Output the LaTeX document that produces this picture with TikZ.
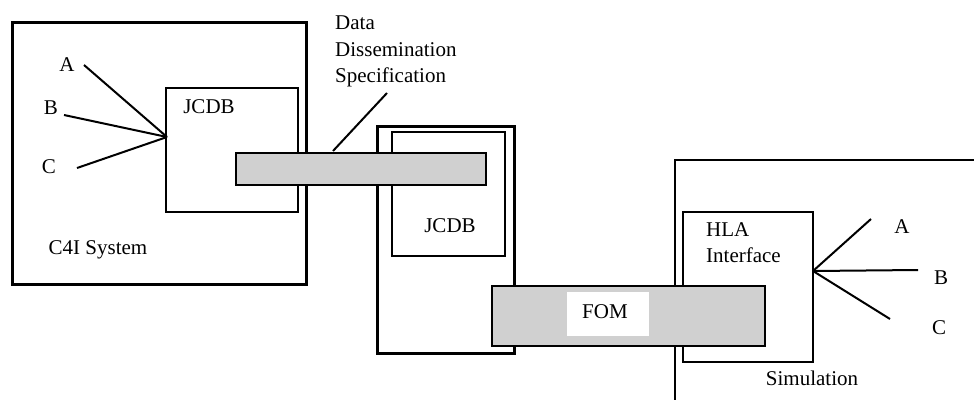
\documentclass[tikz,border=0pt]{standalone}
\usepackage{fontspec}
\setmainfont{Liberation Serif}
\definecolor{bargray}{HTML}{D0D0D0}
\begin{document}
\begin{tikzpicture}[x=1pt,y=-1pt,
  box/.style={draw, line width=2.6pt, fill=white, inner sep=0pt, anchor=north west},
  inbox/.style={draw, line width=2.3pt, fill=white, inner sep=0pt, anchor=north west},
  bar/.style={draw, line width=2.2pt, fill=bargray, inner sep=0pt, anchor=north west},
  lbl/.style={font=\fontsize{21}{26.5}\selectfont, inner sep=0pt},
  wire/.style={line width=2pt}]
\useasboundingbox (0,0) rectangle (974,399);
% C4I system
\node[box, minimum width=294, minimum height=262] (c4i) at (11,21) {};
\node[inbox, minimum width=132, minimum height=124] (jcdb1) at (165,87) {};
\node[lbl] (jcdb1t) at (209,107) {JCDB};
\node[lbl] (c4it) at (98,250) {C4I System};
\coordinate (hub1) at (167,137);
\coordinate (a1) at (84,65);
\coordinate (b1) at (64,115);
\coordinate (c1) at (77,168);
\node[lbl] (a1t) at (67,65) {A};
\node[lbl] (b1t) at (51,108) {B};
\node[lbl] (c1t) at (49,167) {C};
\draw[wire] (a1) -- (hub1);
\draw[wire] (b1) -- (hub1);
\draw[wire] (c1) -- (hub1);
% middle
\node[box, minimum width=137, minimum height=227] (mid) at (376,125) {};
\node[inbox, minimum width=113, minimum height=124] (jcdb2) at (391,131) {};
\node[lbl] (jcdb2t) at (450,226) {JCDB};
% DDS bar
\node[bar, minimum width=250, minimum height=32] (dds) at (235,152) {};
\node[lbl, align=left, anchor=north west] (ddst) at (335,16) {Data\\Dissemination\\Specification};
\coordinate (l1) at (387,93);
\coordinate (l2) at (333,151);
\draw[wire] (l1) -- (l2);
% Simulation
\coordinate (s1) at (975,160);
\coordinate (s2) at (675,400);
\draw[line width=2.6pt] (s1) -| (s2);
\node[inbox, minimum width=130, minimum height=150] (hla) at (682,211) {};
\node[lbl, align=left, anchor=north west] (hlat) at (706,222) {HLA\\Interface};
\node[lbl] (simt) at (812,378) {Simulation};
\coordinate (hub2) at (813,271);
\coordinate (a2) at (871,219);
\coordinate (b2) at (918,270);
\coordinate (c2) at (890,319);
\draw[wire] (hub2) -- (a2);
\draw[wire] (hub2) -- (b2);
\draw[wire] (hub2) -- (c2);
\node[lbl] (a2t) at (902,227) {A};
\node[lbl] (b2t) at (941,278) {B};
\node[lbl] (c2t) at (939,328) {C};
% FOM bar
\node[bar, minimum width=273, minimum height=60] (fom) at (491,285) {};
\node[fill=white, inner sep=0pt, minimum width=82, minimum height=44] (fomw) at (608,314) {};
\node[lbl] (fomt) at (605,312) {FOM};
\end{tikzpicture}
\end{document}
